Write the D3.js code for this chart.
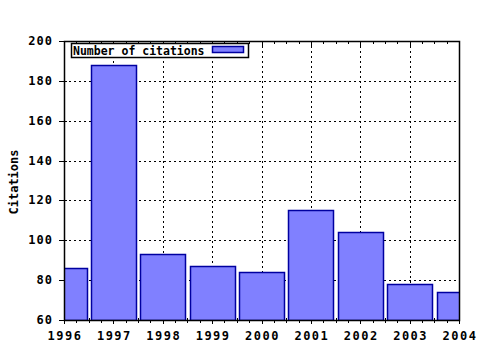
<!DOCTYPE html>
<html>
<head>
<meta charset="utf-8">
<script src="https://cdn.jsdelivr.net/npm/d3@7"></script>
<style>
  body { margin: 0; background: #fff; }
  text { font-family: "DejaVu Sans Mono", monospace; font-weight: bold; fill: #000; }
</style>
</head>
<body>
<svg width="480" height="350"></svg>
<script>
var years = [1996, 1997, 1998, 1999, 2000, 2001, 2002, 2003, 2004];
var citations = [86, 188, 93, 87, 84, 115, 104, 78, 74];
var yTicks = [60, 80, 100, 120, 140, 160, 180, 200];
var seriesName = "Number of citations";

var svg = d3.select("svg"),
    plotL = 64, plotR = 459, plotT = 41, plotB = 320;

var x = d3.scaleLinear().domain([1996, 2004]).range([plotL, plotR]),
    y = d3.scaleLinear().domain([60, 200]).range([plotB, plotT]);

svg.append("clipPath").attr("id", "plot")
  .append("rect").attr("x", plotL).attr("y", plotT)
    .attr("width", plotR - plotL).attr("height", plotB - plotT);

// grid
svg.append("g").selectAll("line")
  .data(years.slice(1, -1))
  .enter().append("line")
    .attr("x1", function(d) { return Math.round(x(d)) + 0.5; })
    .attr("x2", function(d) { return Math.round(x(d)) + 0.5; })
    .attr("y1", plotT).attr("y2", plotB)
    .attr("stroke", "#000").attr("stroke-dasharray", "2,3");
svg.append("g").selectAll("line")
  .data(yTicks.slice(1, -1))
  .enter().append("line")
    .attr("x1", plotL).attr("x2", plotR)
    .attr("y1", function(d) { return Math.round(y(d)) + 0.5; })
    .attr("y2", function(d) { return Math.round(y(d)) + 0.5; })
    .attr("stroke", "#000").attr("stroke-dasharray", "2,3");

// ticks
var minor = [];
for (var i = 0; i < years.length - 1; i++)
  for (var k = 1; k < 4; k++) minor.push(years[i] + k / 4);
var tk = svg.append("g").attr("stroke", "#000");
minor.forEach(function(d) {
  var px = Math.round(x(d)) + 0.5;
  tk.append("line").attr("x1", px).attr("x2", px).attr("y1", plotT).attr("y2", plotT + 3);
  tk.append("line").attr("x1", px).attr("x2", px).attr("y1", plotB - 2).attr("y2", plotB + 3);
});
years.forEach(function(d) {
  var px = Math.round(x(d)) + 0.5;
  tk.append("line").attr("x1", px).attr("x2", px).attr("y1", plotT).attr("y2", plotT + 5);
  tk.append("line").attr("x1", px).attr("x2", px).attr("y1", plotB - 4).attr("y2", plotB + 4);
});
yTicks.forEach(function(d) {
  var py = Math.round(y(d)) + 0.5;
  tk.append("line").attr("x1", plotL - 5).attr("x2", plotL + 3).attr("y1", py).attr("y2", py);
});

// bars
var bw = (x(1997) - x(1996)) * 0.91;
svg.append("g").attr("clip-path", "url(#plot)")
  .selectAll("rect")
  .data(years)
  .enter().append("rect")
    .attr("x", function(d) { return Math.round(x(d) - bw / 2) + 0.5; })
    .attr("y", function(d, i) { return Math.round(y(citations[i])) + 0.5; })
    .attr("width", Math.round(bw))
    .attr("height", function(d, i) { return plotB - Math.round(y(citations[i])); })
    .attr("fill", "#8080ff").attr("stroke", "#0000a0").attr("stroke-width", 1.5);

// border
svg.append("rect").attr("x", plotL + 0.5).attr("y", plotT + 0.5)
  .attr("width", plotR - plotL).attr("height", plotB - plotT)
  .attr("fill", "none").attr("stroke", "#000").attr("stroke-width", 1.5);

// tick labels
svg.append("g").selectAll("text")
  .data(yTicks)
  .enter().append("text")
    .attr("x", 53).attr("y", function(d) { return y(d) + 4; })
    .attr("text-anchor", "end").attr("font-size", 12).attr("letter-spacing", 1)
    .text(function(d) { return d; });
svg.append("g").selectAll("text")
  .data(years)
  .enter().append("text")
    .attr("x", function(d) { return x(d) + 1; }).attr("y", 340)
    .attr("text-anchor", "middle").attr("font-size", 12).attr("letter-spacing", 1.5)
    .text(function(d) { return d; });

svg.append("text")
  .attr("transform", "translate(18,182) rotate(-90)")
  .attr("text-anchor", "middle").attr("font-size", 12)
  .text("Citations");

// legend
var lg = svg.append("g");
lg.append("rect").attr("x", 71.5).attr("y", 43.5).attr("width", 177).attr("height", 14)
  .attr("fill", "#fff").attr("stroke", "#000").attr("stroke-width", 1.5);
lg.append("text").attr("x", 73).attr("y", 55).attr("font-size", 11.5).text(seriesName);
lg.append("rect").attr("x", 212.5).attr("y", 46.5).attr("width", 31).attr("height", 6)
  .attr("fill", "#8080ff").attr("stroke", "#0000a0").attr("stroke-width", 1.5);
</script>
</body>
</html>
